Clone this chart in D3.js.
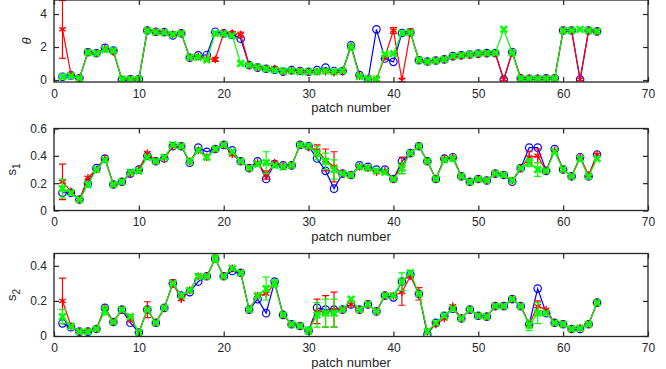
<!DOCTYPE html>
<html><head><meta charset="utf-8">
<script src="https://cdn.jsdelivr.net/npm/d3@7"></script>
<style>body{margin:0;background:#fff}svg{display:block}text{font-family:"Liberation Sans",Arial,sans-serif}</style>
</head><body><svg id="c" width="666" height="369"></svg>
<script>
const patches = d3.range(1, 65);
const xTicks = [0, 10, 20, 30, 40, 50, 60, 70];

// theta
const thetaBlue = [0.2,0.28,0.12,1.68,1.62,1.95,1.78,0.0,0.05,0.05,3.0,2.93,2.9,2.7,2.83,1.35,1.5,1.52,2.93,2.83,2.75,2.5,0.9,0.75,0.68,0.62,0.5,0.6,0.55,0.5,0.6,0.75,0.55,0.55,2.1,0.3,0.0,3.07,1.3,1.1,2.85,2.88,1.2,1.12,1.18,1.25,1.45,1.5,1.55,1.6,1.63,1.63,0.03,1.7,0.1,0.08,0.08,0.1,0.1,3.0,3.0,0.03,3.0,2.95];
const thetaRed = [3.07,0.35,0.12,1.68,1.62,1.9,1.7,0.05,0.05,0.05,3.0,2.93,2.9,2.77,2.83,1.37,1.41,1.3,1.25,2.85,2.85,2.75,0.9,0.75,0.68,0.7,0.5,0.55,0.55,0.5,0.5,0.5,0.45,0.5,2.02,0.25,0.1,0.05,1.4,3.0,0.0,2.9,1.2,1.12,1.18,1.25,1.4,1.45,1.5,1.55,1.6,1.62,0.03,1.65,0.15,0.1,0.1,0.1,0.1,3.0,3.0,0.03,3.0,2.95];
const thetaGreen = [0.2,0.25,0.1,1.68,1.62,1.85,1.78,0.05,0.05,0.05,3.0,2.9,2.88,2.77,2.83,1.37,1.38,1.22,2.83,2.8,2.7,1.0,0.9,0.78,0.68,0.6,0.55,0.55,0.5,0.5,0.5,0.55,0.5,0.55,2.02,0.22,0.1,0.05,1.57,1.6,2.85,2.88,1.2,1.12,1.18,1.25,1.45,1.5,1.55,1.6,1.63,1.63,3.07,1.65,0.08,0.08,0.08,0.08,0.08,3.0,3.0,3.07,3.0,2.95];
const thetaRedErr = [1.75,0,0,0,0,0,0,0,0,0,0,0,0,0,0,0,0,0,0.12,0,0.08,0.15,0,0,0,0.08,0,0,0,0,0,0,0,0,0,0,0,0,0,0.18,0.1,0.2,0,0,0,0,0,0,0,0,0,0,0,0,0,0,0,0,0,0,0,0,0,0];
const thetaGreenErr = new Array(64).fill(0);

// s1
const s1Blue = [0.13,0.13,0.08,0.2,0.31,0.38,0.19,0.21,0.27,0.3,0.4,0.36,0.38,0.47,0.47,0.35,0.46,0.43,0.45,0.48,0.44,0.36,0.31,0.36,0.23,0.34,0.33,0.33,0.48,0.47,0.38,0.29,0.16,0.27,0.26,0.33,0.32,0.3,0.3,0.23,0.36,0.42,0.47,0.36,0.23,0.38,0.39,0.25,0.21,0.23,0.22,0.27,0.26,0.21,0.31,0.46,0.46,0.29,0.45,0.3,0.25,0.39,0.25,0.41];
const s1Red = [0.21,0.14,0.08,0.24,0.3,0.38,0.19,0.21,0.27,0.3,0.42,0.36,0.38,0.47,0.47,0.36,0.44,0.39,0.45,0.48,0.41,0.36,0.31,0.35,0.26,0.35,0.33,0.33,0.48,0.46,0.44,0.37,0.32,0.27,0.26,0.32,0.31,0.28,0.29,0.23,0.33,0.42,0.47,0.36,0.23,0.38,0.39,0.25,0.21,0.23,0.22,0.27,0.26,0.22,0.31,0.39,0.4,0.29,0.44,0.3,0.25,0.39,0.26,0.41];
const s1Green = [0.16,0.13,0.08,0.19,0.3,0.37,0.19,0.21,0.28,0.29,0.39,0.36,0.39,0.48,0.47,0.36,0.44,0.39,0.45,0.48,0.43,0.36,0.31,0.34,0.35,0.33,0.32,0.33,0.48,0.47,0.42,0.36,0.3,0.27,0.26,0.32,0.31,0.29,0.28,0.23,0.31,0.42,0.47,0.36,0.23,0.37,0.38,0.25,0.21,0.23,0.22,0.27,0.26,0.22,0.31,0.35,0.3,0.29,0.43,0.3,0.25,0.38,0.25,0.38];
const s1RedErr = [0.13,0,0,0,0,0,0,0,0,0,0,0,0,0,0,0,0,0,0,0,0,0,0,0,0.03,0,0,0,0,0,0.04,0.08,0.11,0,0,0,0,0,0,0,0.06,0,0,0,0,0,0,0,0,0,0,0,0,0,0,0.04,0.05,0,0,0,0,0,0,0];
const s1GreenErr = [0.07,0,0,0,0,0,0,0,0,0,0,0,0,0,0,0,0,0,0,0,0,0,0,0,0.08,0,0,0,0,0,0.05,0.06,0.07,0,0,0,0,0,0,0,0.04,0,0,0,0,0,0,0,0,0,0,0,0,0,0,0.03,0.05,0,0,0,0,0,0,0];

// s2
const s2Blue = [0.072,0.05,0.025,0.025,0.04,0.16,0.08,0.15,0.075,0.02,0.15,0.075,0.16,0.3,0.23,0.25,0.31,0.34,0.44,0.34,0.37,0.36,0.15,0.21,0.13,0.31,0.12,0.067,0.057,0.03,0.16,0.15,0.15,0.15,0.18,0.15,0.18,0.14,0.23,0.22,0.31,0.35,0.24,0.01,0.075,0.115,0.155,0.1,0.15,0.115,0.11,0.17,0.17,0.21,0.17,0.067,0.27,0.13,0.075,0.067,0.04,0.04,0.067,0.19];
const s2Red = [0.2,0.057,0.025,0.03,0.04,0.16,0.08,0.15,0.1,0.02,0.15,0.075,0.16,0.3,0.21,0.26,0.34,0.34,0.44,0.34,0.385,0.36,0.15,0.23,0.24,0.3,0.12,0.067,0.057,0.03,0.14,0.14,0.15,0.15,0.18,0.15,0.18,0.14,0.23,0.23,0.25,0.34,0.24,0.025,0.065,0.1,0.17,0.1,0.15,0.115,0.11,0.17,0.17,0.21,0.17,0.067,0.17,0.15,0.075,0.067,0.04,0.045,0.067,0.19];
const s2Green = [0.11,0.057,0.025,0.025,0.04,0.145,0.08,0.15,0.11,0.02,0.15,0.075,0.16,0.3,0.23,0.26,0.34,0.34,0.44,0.34,0.385,0.36,0.15,0.23,0.27,0.3,0.12,0.067,0.057,0.03,0.12,0.13,0.13,0.15,0.21,0.15,0.18,0.14,0.23,0.23,0.31,0.36,0.24,0.025,0.075,0.115,0.155,0.1,0.15,0.115,0.11,0.17,0.17,0.21,0.17,0.06,0.13,0.13,0.075,0.067,0.04,0.045,0.067,0.19];
const s2RedErr = [0.13,0,0,0,0,0,0,0,0.02,0,0.045,0,0,0.02,0,0,0,0,0.02,0,0,0,0,0,0,0,0,0,0,0,0.07,0.09,0.1,0,0,0,0,0,0,0,0.075,0,0.035,0,0,0,0,0,0,0,0,0,0,0,0,0,0.03,0,0,0,0,0,0,0];
const s2GreenErr = [0.04,0,0,0,0,0.025,0,0,0,0,0,0,0,0,0,0,0,0,0.02,0,0,0,0,0,0.065,0.02,0,0,0,0.02,0.07,0.08,0.08,0,0,0,0,0,0,0,0.05,0,0,0,0,0,0,0,0,0,0,0,0,0,0,0.03,0.06,0,0,0,0,0,0,0];

const zeros = new Array(64).fill(0);
const panels = [
  {top: 0, bottom: 82, domain: [-0.12, 4.85], yTicks: [0, 2, 4], label: "theta",
   series: [{c: "#0000ff", m: "o", v: thetaBlue, e: zeros}, {c: "#ff0000", m: "*", v: thetaRed, e: thetaRedErr}, {c: "#00ff00", m: "x", v: thetaGreen, e: thetaGreenErr}]},
  {top: 128.5, bottom: 210.5, domain: [0, 0.6], yTicks: [0, 0.2, 0.4, 0.6], label: "1",
   series: [{c: "#0000ff", m: "o", v: s1Blue, e: zeros}, {c: "#ff0000", m: "*", v: s1Red, e: s1RedErr}, {c: "#00ff00", m: "x", v: s1Green, e: s1GreenErr}]},
  {top: 253.5, bottom: 336.5, domain: [-0.003, 0.47], yTicks: [0, 0.2, 0.4], label: "2",
   series: [{c: "#0000ff", m: "o", v: s2Blue, e: zeros}, {c: "#ff0000", m: "*", v: s2Red, e: s2RedErr}, {c: "#00ff00", m: "x", v: s2Green, e: s2GreenErr}]}
];

const svg = d3.select("#c");
const axCol = "#262626";
const x = d3.scaleLinear().domain([0, 70]).range([54, 648]);

panels.forEach((P, pi) => {
  const y = d3.scaleLinear().domain(P.domain).range([P.bottom, P.top]);
  const g = svg.append("g");
  const cid = "clip" + pi;
  svg.append("clipPath").attr("id", cid).append("rect")
    .attr("x", x.range()[0]).attr("y", P.top).attr("width", x.range()[1] - x.range()[0]).attr("height", P.bottom - P.top);
  const plot = g.append("g").attr("clip-path", `url(#${cid})`);
  const line = d3.line().x((d, i) => x(patches[i])).y(d => y(d));
  P.series.forEach(S => {
    const sg = plot.append("g");
    sg.append("path").datum(S.v).attr("d", line).attr("fill", "none").attr("stroke", S.c).attr("stroke-width", 1.2);
    S.v.forEach((v, i) => {
      const e = S.e[i];
      if (e > 0) {
        const px = x(patches[i]), y1 = y(v - e), y2 = y(v + e);
        sg.append("line").attr("x1", px).attr("x2", px).attr("y1", y1).attr("y2", y2).attr("stroke", S.c).attr("stroke-width", 1.2);
        [y1, y2].forEach(yy => sg.append("line").attr("x1", px - 3.5).attr("x2", px + 3.5).attr("y1", yy).attr("y2", yy).attr("stroke", S.c).attr("stroke-width", 1.2));
      }
      const px = x(patches[i]), py = y(v);
      if (S.m === "o") {
        sg.append("circle").attr("cx", px).attr("cy", py).attr("r", 3.7).attr("fill", "none").attr("stroke", S.c).attr("stroke-width", 1.2);
      } else if (S.m === "*") {
        sg.append("path").attr("transform", `translate(${px},${py})`)
          .attr("d", d3.symbol(d3.symbolAsterisk, 40)()).attr("fill", "none").attr("stroke", S.c).attr("stroke-width", 1.4);
      } else {
        sg.append("path").attr("transform", `translate(${px},${py})`)
          .attr("d", d3.symbol(d3.symbolX, 30)()).attr("fill", "none").attr("stroke", S.c).attr("stroke-width", 2.5);
      }
    });
  });

  // axes
  const fmt = d => String(d);
  const ax = [
    g.append("g").attr("transform", `translate(0,${P.bottom})`).call(d3.axisBottom(x).tickValues(xTicks).tickSize(-5).tickPadding(7).tickFormat(fmt)),
    g.append("g").attr("transform", `translate(0,${P.top})`).call(d3.axisTop(x).tickValues(xTicks).tickSize(-5).tickFormat("")),
    g.append("g").attr("transform", `translate(${x.range()[0]},0)`).call(d3.axisLeft(y).tickValues(P.yTicks).tickSize(-5).tickPadding(7).tickFormat(fmt)),
    g.append("g").attr("transform", `translate(${x.range()[1]},0)`).call(d3.axisRight(y).tickValues(P.yTicks).tickSize(-5).tickFormat(""))
  ];
  ax.forEach(a => {
    a.select(".domain").remove();
    a.selectAll("line").attr("stroke", axCol).attr("stroke-width", 1.2);
    a.selectAll("text").attr("fill", axCol).style("font-size", "12px").style("font-family", '"Liberation Sans", Arial, sans-serif');
  });
  g.append("rect").attr("x", x.range()[0]).attr("y", P.top).attr("width", x.range()[1] - x.range()[0]).attr("height", P.bottom - P.top)
    .attr("fill", "none").attr("stroke", axCol).attr("stroke-width", 1.3);

  g.append("text").attr("x", (x.range()[0] + x.range()[1]) / 2).attr("y", P.bottom + 25.6).attr("dy", "0.35em")
    .attr("text-anchor", "middle").attr("fill", axCol).style("font-size", "13px").text("patch number");

  const ymid = (P.top + P.bottom) / 2;
  if (P.label === "theta") {
    g.append("text").attr("transform", `translate(31,${ymid}) rotate(-90)`).attr("text-anchor", "middle")
      .attr("fill", axCol).style("font-size", "13px").style("font-style", "italic").text("θ");
  } else {
    const t = g.append("text").attr("transform", `translate(16,${ymid}) rotate(-90)`).attr("text-anchor", "middle")
      .attr("fill", axCol).style("font-size", "13px");
    t.append("tspan").text("s");
    t.append("tspan").attr("dy", "0.35em").style("font-size", "10px").text(P.label);
  }
});
</script></body></html>
